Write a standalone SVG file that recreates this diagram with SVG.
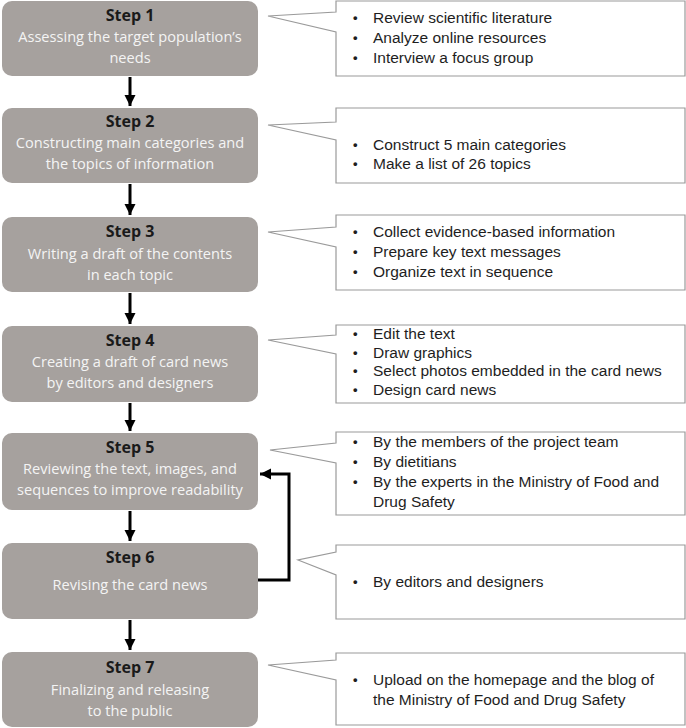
<svg xmlns="http://www.w3.org/2000/svg" width="686" height="728" viewBox="0 0 686 728">
<defs>
<style>
.step{fill:#a6a19e;}
.title{font-family:"Open Sans","Liberation Sans",sans-serif;font-weight:bold;font-size:16px;fill:#1a1a1a;text-anchor:middle;}
.desc{font-family:"Open Sans","Liberation Sans",sans-serif;font-size:14.6px;fill:#f4f4f4;text-anchor:middle;}
.call{fill:#fff;stroke:#9a9a9a;stroke-width:1.2;}
.ct{font-family:"Liberation Sans",Arial,sans-serif;font-size:15.5px;fill:#1e1e1e;}
.bu{font-family:"Liberation Sans",Arial,sans-serif;font-size:13px;font-weight:bold;fill:#1e1e1e;}
.conn{fill:none;stroke:#000;stroke-width:3;}
</style>
<marker id="ah" markerUnits="userSpaceOnUse" markerWidth="12" markerHeight="12" viewBox="0 0 12 12" refX="11" refY="6" orient="auto">
<path d="M0,0.5 L11,6 L0,11.5 Z" fill="#000"/>
</marker>
</defs>
<rect width="686" height="728" fill="#fff"/>

<g id="step1"><rect class="step" x="2" y="1" width="256" height="75" rx="10"/>
<text class="title" x="130" y="21">Step 1</text>
<text class="desc" x="130" y="42">Assessing the target population’s</text>
<text class="desc" x="130" y="63">needs</text></g>

<g id="step2"><rect class="step" x="2" y="108" width="256" height="75" rx="10"/>
<text class="title" x="130" y="127">Step 2</text>
<text class="desc" x="130" y="148">Constructing main categories and</text>
<text class="desc" x="130" y="169">the topics of information</text></g>

<g id="step3"><rect class="step" x="2" y="217" width="256" height="75" rx="10"/>
<text class="title" x="130" y="237">Step 3</text>
<text class="desc" x="130" y="259">Writing a draft of the contents</text>
<text class="desc" x="130" y="280">in each topic</text></g>

<g id="step4"><rect class="step" x="2" y="326" width="256" height="76" rx="10"/>
<text class="title" x="130" y="346">Step 4</text>
<text class="desc" x="130" y="367">Creating a draft of card news</text>
<text class="desc" x="130" y="388">by editors and designers</text></g>

<g id="step5"><rect class="step" x="2" y="433" width="256" height="77" rx="10"/>
<text class="title" x="130" y="453">Step 5</text>
<text class="desc" x="130" y="474">Reviewing the text, images, and</text>
<text class="desc" x="130" y="495">sequences to improve readability</text></g>

<g id="step6"><rect class="step" x="2" y="543" width="256" height="76" rx="10"/>
<text class="title" x="130" y="563">Step 6</text>
<text class="desc" x="130" y="590">Revising the card news</text></g>

<g id="step7"><rect class="step" x="2" y="652" width="256" height="75" rx="10"/>
<text class="title" x="130" y="673">Step 7</text>
<text class="desc" x="130" y="695">Finalizing and releasing</text>
<text class="desc" x="130" y="716">to the public</text></g>

<g id="note1"><path class="call" d="M336,1 H685 V76 H336 V32 L268,16 L336,12 Z"/>
<text class="bu" x="353" y="22">•</text><text class="ct" x="373" y="23">Review scientific literature</text>
<text class="bu" x="353" y="42">•</text><text class="ct" x="373" y="43">Analyze online resources</text>
<text class="bu" x="353" y="62">•</text><text class="ct" x="373" y="63">Interview a focus group</text></g>

<g id="note2"><path class="call" d="M336,108 H685 V183 H336 V140 L268,125 L336,122 Z"/>
<text class="bu" x="353" y="149">•</text><text class="ct" x="373" y="150">Construct 5 main categories</text>
<text class="bu" x="353" y="168">•</text><text class="ct" x="373" y="169">Make a list of 26 topics</text></g>

<g id="note3"><path class="call" d="M336,215 H685 V290 H336 V247 L268,232 L336,227 Z"/>
<text class="bu" x="353" y="236">•</text><text class="ct" x="373" y="237">Collect evidence-based information</text>
<text class="bu" x="353" y="256">•</text><text class="ct" x="373" y="257">Prepare key text messages</text>
<text class="bu" x="353" y="276">•</text><text class="ct" x="373" y="277">Organize text in sequence</text></g>

<g id="note4"><path class="call" d="M336,325 H685 V403 H336 V354 L268,340 L336,335 Z"/>
<text class="bu" x="353" y="338">•</text><text class="ct" x="373" y="339">Edit the text</text>
<text class="bu" x="353" y="356.5">•</text><text class="ct" x="373" y="357.5">Draw graphics</text>
<text class="bu" x="353" y="375">•</text><text class="ct" x="373" y="376">Select photos embedded in the card news</text>
<text class="bu" x="353" y="393.5">•</text><text class="ct" x="373" y="394.5">Design card news</text></g>

<g id="note5"><path class="call" d="M336,432 H685 V515 H336 V463 L270,450 L336,443 Z"/>
<text class="bu" x="353" y="446">•</text><text class="ct" x="373" y="447">By the members of the project team</text>
<text class="bu" x="353" y="466">•</text><text class="ct" x="373" y="467">By dietitians</text>
<text class="bu" x="353" y="486">•</text><text class="ct" x="373" y="487">By the experts in the Ministry of Food and</text>
<text class="ct" x="373" y="507">Drug Safety</text></g>

<g id="note6"><path class="call" d="M336,545 H685 V619 H336 V575 L298,560 L336,552 Z"/>
<text class="bu" x="353" y="586">•</text><text class="ct" x="373" y="587">By editors and designers</text></g>

<g id="note7"><path class="call" d="M336,653 H685 V725 H336 V680 L268,665 L336,660 Z"/>
<text class="bu" x="353" y="684">•</text><text class="ct" x="373" y="685">Upload on the homepage and the blog of</text>
<text class="ct" x="373" y="705">the Ministry of Food and Drug Safety</text></g>

<g id="connectors">
<line class="conn" x1="130" y1="77" x2="130" y2="106" marker-end="url(#ah)"/>
<line class="conn" x1="130" y1="184" x2="130" y2="215" marker-end="url(#ah)"/>
<line class="conn" x1="130" y1="293" x2="130" y2="324" marker-end="url(#ah)"/>
<line class="conn" x1="130" y1="403" x2="130" y2="431" marker-end="url(#ah)"/>
<line class="conn" x1="130" y1="511" x2="130" y2="541" marker-end="url(#ah)"/>
<line class="conn" x1="130" y1="620" x2="130" y2="650" marker-end="url(#ah)"/>
<path class="conn" d="M258,580 H289 V474 H260" marker-end="url(#ah)"/>
</g>
</svg>
